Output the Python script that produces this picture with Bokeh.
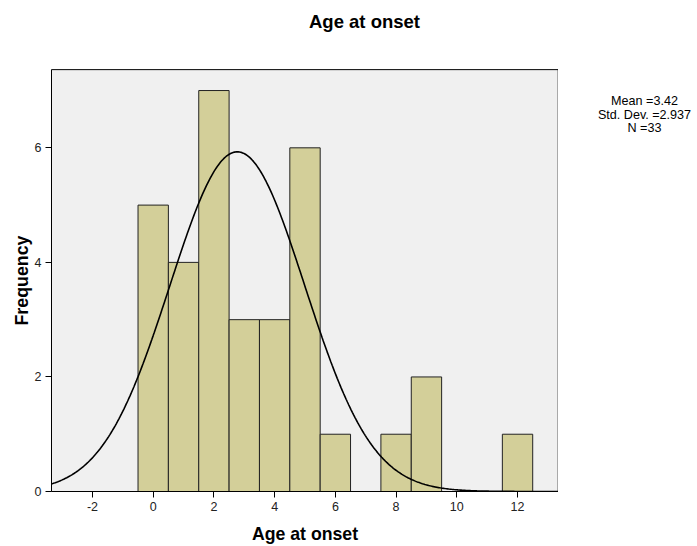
import numpy as np
from bokeh.plotting import figure
from bokeh.layouts import row
from bokeh.models import Range1d, FixedTicker, ColumnDataSource, Title
from bokeh.core.properties import value
from bokeh.embed import file_html
from bokeh.resources import INLINE

# Data
bin_centers = [0, 1, 2, 3, 4, 5, 6, 8, 9, 12]
frequencies = [5, 4, 7, 3, 3, 6, 1, 1, 2, 1]
bin_width = 1.0
x_ticks = [-2, 0, 2, 4, 6, 8, 10, 12]
x_tick_labels = ["-2", "0", "2", "4", "6", "8", "10", "12"]
y_ticks = [0, 2, 4, 6]
stats_lines = ["Mean =3.42", "Std. Dev. =2.937", "N =33"]
title_text = "Age at onset"
x_label = "Age at onset"
y_label = "Frequency"
# Normal curve as drawn (peak location / spread)
curve_mean = 2.77
curve_sd = 2.22
curve_n = 33

# plotting-area extent (data units)
x_lo, x_hi = -3.35, 13.34
y_lo, y_hi = 0.0, 7.365

FONT = "Liberation Sans"
H = 546
LEFT, BOTTOM = 51, 55
MAIN_W = 558
px_x = 30.36   # pixels per x unit
px_y = 57.28   # pixels per y unit

def dx(px):   # canvas x pixel -> data x
    return x_lo + (px - LEFT) / px_x

def dy(py):   # canvas y pixel -> data y
    return (H - BOTTOM - py) / px_y

p = figure(width=MAIN_W, height=H, output_backend="svg", toolbar_location=None,
           x_range=Range1d(x_lo, dx(MAIN_W)), y_range=Range1d(0, dy(0)),
           min_border_left=LEFT, min_border_right=0, min_border_top=0, min_border_bottom=BOTTOM)
p.background_fill_color = "white"
p.border_fill_color = "white"
p.outline_line_color = None
p.grid.visible = False

# plotting area box
p.quad(left=[x_lo], right=[x_hi], bottom=[y_lo], top=[y_hi],
       fill_color="#f0f0f0", line_color="black", line_width=1)

src = ColumnDataSource(dict(x=bin_centers, top=frequencies))
p.vbar(x="x", top="top", bottom=0, width=bin_width, source=src,
       fill_color="#d3cf99", line_color="#222222", line_width=1)

xs = np.linspace(x_lo, x_hi, 400)
ys = curve_n * bin_width / (curve_sd * np.sqrt(2 * np.pi)) * np.exp(-0.5 * ((xs - curve_mean) / curve_sd) ** 2)
p.line(xs, ys, line_color="black", line_width=1.6)

for ax, ticks in ((p.xaxis, x_ticks), (p.yaxis, y_ticks)):
    ax.ticker = FixedTicker(ticks=ticks)
    ax.minor_tick_line_color = None
    ax.major_tick_out = 6
    ax.major_tick_in = 0
    ax.major_tick_line_color = "black"
    ax.axis_line_color = "black"
    ax.major_label_text_font = FONT
    ax.major_label_text_font_size = "12.5px"
    ax.major_label_text_color = "#222222"
    ax.axis_label_text_font = FONT
    ax.axis_label_text_font_size = "17.7px"
    ax.axis_label_text_font_style = "bold"
    ax.axis_label_text_color = "black"
p.xaxis.bounds = (x_lo, x_hi)
p.yaxis.bounds = (y_lo, y_hi)
p.xaxis.major_label_overrides = {t: s for t, s in zip(x_ticks, x_tick_labels)}
p.xaxis.axis_label = x_label
p.xaxis.major_label_standoff = 4
p.yaxis.major_label_standoff = 4
p.xaxis.axis_label_standoff = 10

# y-axis title placed along the plotting area
p.add_layout(Title(text=y_label, align="left", offset=166, standoff=0,
                   text_font=FONT, text_font_size="17.8px", text_font_style="bold",
                   text_color="black"), "left")

# chart title
p.text(x=[dx(364)], y=[dy(21.3)], text=[title_text], text_align="center", text_baseline="middle",
       text_font=value(FONT), text_font_size="18.5px", text_font_style="bold", text_color="black")

# side panel holding the statistics text (its frame lines up with the main frame)
s = figure(width=697 - MAIN_W, height=H, output_backend="svg", toolbar_location=None,
           x_range=Range1d(MAIN_W, 697), y_range=Range1d(H - BOTTOM, 0),
           min_border_left=0, min_border_right=0, min_border_top=0, min_border_bottom=0)
s.axis.visible = False
s.grid.visible = False
s.outline_line_color = None
s.background_fill_color = "white"
s.border_fill_color = "white"
stat_src = ColumnDataSource(dict(x=[644] * len(stats_lines),
                                 y=[100.5 + i * 13.7 for i in range(len(stats_lines))],
                                 t=stats_lines))
s.text(x="x", y="y", text="t", source=stat_src, text_align="center", text_baseline="middle",
       text_font=value(FONT), text_font_size="12.6px", text_color="black")

layout = row(p, s, spacing=0)
open("out.html", "w").write(file_html(layout, INLINE))
